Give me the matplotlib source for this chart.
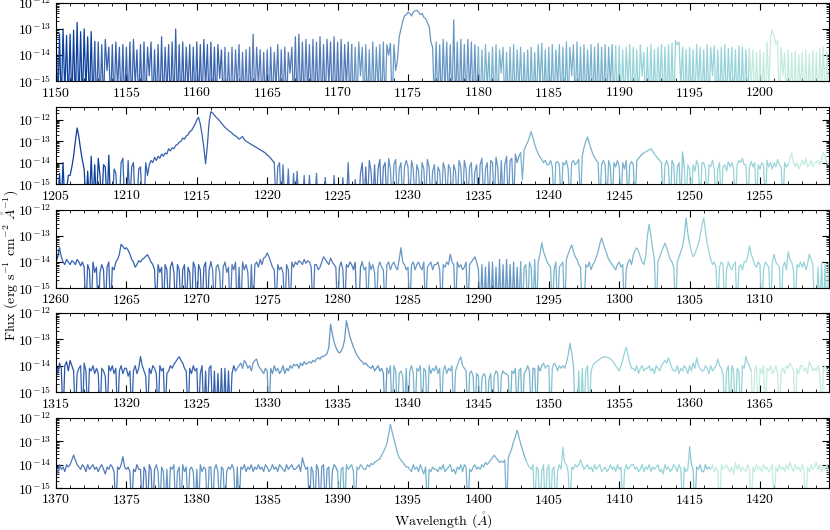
import numpy as np
from matplotlib import pyplot as plt
from matplotlib.ticker import MultipleLocator

plt.rcParams['font.family'] = 'serif'
plt.rcParams['font.serif'] = ['cmr10']
plt.rcParams['mathtext.fontset'] = 'cm'
plt.rcParams['axes.formatter.use_mathtext'] = True
plt.rcParams['font.size'] = 10

# Spectrum: log10 flux every 0.125 A, one list per panel
starts = [1150, 1205, 1260, 1315, 1370]
step = 0.125

logflux_1150 = [
    -13.1, -16, -13.2, -16, -13.0, -15.5, -13.25, -16, -13.2, -16, -13.05, -16, -12.75, -16, -13.1, -16,
    -13.0, -15.4, -13.3, -16, -13.1, -16, -13.5, -16, -13.5, -16, -13.6, -16, -13.4, -14.6, -13.7, -16,
    -13.6, -16, -13.5, -15.3, -13.7, -16, -13.6, -16,
    -13.7, -16, -13.5, -16, -13.4, -15.2, -13.8, -16, -13.6, -16, -13.5, -16, -13.7, -14.8, -13.5, -16,
    -13.8, -16, -13.6, -16, -13.3, -16, -13.7, -15.5, -13.6, -16, -13.5, -16, -13.0, -16, -13.6, -16,
    -13.5, -16, -13.7, -15.4, -13.6, -16, -13.7, -16,
    -13.5, -16, -13.6, -16, -13.4, -15.3, -13.6, -16, -13.5, -16, -13.7, -16, -13.6, -14.9, -13.8, -16,
    -13.7, -16, -13.9, -16, -13.7, -16, -13.8, -15.4, -13.6, -16, -13.9, -16, -13.8, -16, -13.7, -16,
    -13.2, -16, -13.7, -15.2, -13.8, -16, -13.9, -16,
    -13.8, -16, -13.7, -16, -13.9, -15.3, -13.6, -16, -13.8, -16, -13.7, -16, -13.9, -14.7, -13.7, -16,
    -13.3, -16, -13.2, -16, -13.5, -16, -13.4, -15.5, -13.6, -16, -13.4, -16, -13.5, -16, -13.3, -16,
    -13.6, -16, -13.4, -15.2, -13.5, -16, -13.3, -16,
    -13.5, -16, -13.4, -16, -13.6, -15.3, -13.5, -16, -13.6, -16, -13.7, -16, -13.5, -14.8, -13.7, -16,
    -13.6, -16, -13.8, -16, -13.5, -16, -13.7, -15.4, -13.6, -16, -13.5, -16, -13.6, -14.0, -13.55, -16,
    -13.6, -14.6, -14.2, -13.3, -13.0, -12.7, -12.5, -12.45,
    -12.35, -12.4, -12.5, -12.35, -12.3, -12.28, -12.35, -12.45, -12.4, -12.55, -12.6, -12.75, -12.9, -13.5, -13.7, -16,
    -13.5, -16, -13.6, -16, -13.4, -15.4, -13.5, -16, -13.6, -16, -12.65, -16, -13.5, -16, -13.4, -16,
    -13.6, -16, -13.4, -15.5, -13.5, -16, -13.6, -16,
    -13.7, -16, -13.8, -16, -13.6, -15.3, -13.9, -16, -13.7, -16, -13.6, -16, -13.8, -14.7, -13.7, -16,
    -13.9, -16, -13.7, -16, -13.6, -16, -13.8, -15.4, -13.7, -16, -13.9, -16, -13.8, -16, -13.7, -16,
    -13.9, -16, -13.6, -15.2, -13.55, -16, -13.8, -16,
    -13.7, -16, -13.6, -16, -13.8, -15.3, -13.6, -16, -13.7, -16, -13.5, -16, -13.7, -14.8, -13.6, -16,
    -13.5, -16, -13.7, -16, -13.6, -16, -13.8, -15.5, -13.6, -16, -13.7, -16, -13.55, -16, -13.7, -16,
    -13.6, -16, -13.7, -15.2, -13.6, -16, -13.65, -16,
    -13.65, -16, -13.8, -16, -13.7, -15.3, -13.6, -16, -13.7, -16, -13.8, -16, -13.6, -14.8, -13.9, -16,
    -13.7, -16, -13.6, -16, -13.8, -16, -13.7, -15.4, -13.6, -16, -13.7, -16, -13.6, -16, -13.55, -16,
    -13.45, -13.6, -13.5, -15.2, -13.7, -16, -13.8, -16,
    -13.7, -16, -13.8, -16, -13.6, -15.3, -13.7, -16, -13.8, -16, -13.6, -16, -13.7, -14.8, -13.65, -16,
    -13.8, -16, -13.7, -16, -13.6, -16, -13.75, -15.4, -13.7, -16, -13.8, -16, -13.65, -16, -13.7, -16,
    -13.8, -16, -13.75, -15.2, -13.8, -16, -13.9, -16,
    -13.8, -16, -13.9, -16, -13.5, -15.3, -13.3, -13.04, -13.3, -13.6, -13.45, -16, -13.7, -14.8, -13.9, -16,
    -13.8, -16, -13.9, -16, -13.85, -16, -14.0, -15.4, -13.9, -16, -13.8, -16, -13.95, -16, -13.8, -16,
    -13.9, -16, -13.75, -15.2, -13.7, -16, -13.85, -16,
    -13.9]

logflux_1205 = [
    -14.8, -16, -14.5, -16, -14.0, -16, -15.3, -14.6,
    -14.6, -14.2, -13.7, -13.0, -12.38, -12.8, -13.4, -13.9,
    -14.3, -16, -14.4, -16, -13.7, -16, -14.1, -16,
    -13.8, -14.6, -16, -14.1, -14.2, -16, -13.65, -16,
    -16, -14.3, -14.5, -16, -16, -14.0, -13.8, -16,
    -16, -13.9, -16, -14.2, -14.0, -16, -16, -14.3,
    -14.2, -16, -16, -14.0, -14.6, -14.1, -13.9, -14.0,
    -13.75, -13.9, -13.7, -13.8, -13.6, -13.7, -13.55, -13.6,
    -13.35, -13.45, -13.3, -13.35, -13.2, -13.15, -13.05, -13.0,
    -12.85, -12.9, -12.75, -12.7, -12.55, -12.5, -12.35, -12.2,
    -12.0, -11.88, -12.2, -12.7, -13.3, -14.06, -13.2, -12.1,
    -11.62, -11.68, -11.78, -11.88, -11.95, -12.05, -12.15, -12.25,
    -12.35, -12.42, -12.5, -12.55, -12.62, -12.7, -12.75, -12.82,
    -12.9, -12.85, -12.78, -12.92, -13.0, -13.05, -13.1, -13.15,
    -13.2, -13.25, -13.3, -13.35, -13.4, -13.45, -13.5, -13.55,
    -13.65, -13.7, -13.8, -13.9, -14.0, -16, -14.2, -14.0,
    -16, -14.1, -16, -16, -14.3, -16, -16, -14.5,
    -16, -14.4, -16, -16, -16, -14.6, -16, -16,
    -14.6, -16, -16, -16, -14.5, -16, -16, -16,
    -16, -14.7, -16, -16, -16, -16, -14.6, -16,
    -16, -16, -16, -14.7, -16, -16, -14.0, -16,
    -16, -16, -14.8, -16, -16, -14.5, -14.0, -16,
    -14.2, -16, -13.9, -14.4, -16, -14.1, -16, -14.3,
    -13.85, -16, -14.2, -14.0, -16, -13.8, -14.3, -16,
    -14.1, -13.85, -16, -14.3, -14.0, -16, -14.2, -13.9,
    -14.2, -16, -13.9, -14.3, -16, -14.1, -14.4, -16,
    -14.0, -14.3, -16, -13.85, -14.2, -16, -14.4, -14.1,
    -16, -14.2, -14.4, -16, -14.0, -14.3, -16, -14.1,
    -14.3, -16, -14.1, -14.4, -16, -13.9, -14.2, -16,
    -13.9, -14.3, -16, -14.2, -14.0, -16, -14.4, -14.1,
    -16, -14.1, -13.8, -16, -14.3, -14.0, -16, -13.9,
    -14.0, -16, -13.75, -14.2, -16, -13.9, -16, -14.1,
    -13.7, -16, -13.9, -13.8, -16, -13.6, -14.0, -13.7,
    -13.55, -14.8, -13.4, -13.2, -13.05, -12.8, -12.55, -12.85,
    -13.15, -13.4, -13.6, -13.75, -13.85, -14.0, -13.9, -14.1,
    -14.1, -13.9, -14.2, -16, -14.0, -13.95, -14.1, -16,
    -14.0, -14.1, -13.9, -14.3, -16, -14.0, -13.9, -14.1,
    -14.0, -13.85, -16, -13.7, -13.3, -13.0, -12.8, -13.1,
    -13.35, -13.6, -13.75, -13.9, -14.0, -16, -14.1, -13.9,
    -14.1, -16, -13.9, -14.2, -16, -14.0, -14.2, -13.9,
    -14.2, -16, -14.0, -14.3, -13.9, -16, -14.1, -13.95,
    -14.1, -16, -13.9, -13.8, -13.7, -13.6, -13.55, -13.5,
    -13.45, -13.4, -13.35, -13.45, -13.6, -13.7, -13.8, -13.9,
    -14.0, -16, -14.1, -13.9, -14.2, -16, -13.9, -14.1,
    -16, -14.2, -14.0, -16, -13.5, -14.2, -16, -14.1,
    -14.3, -16, -14.1, -14.4, -13.9, -14.2, -16, -14.0,
    -14.0, -14.3, -16, -14.1, -14.2, -13.9, -14.3, -16,
    -14.3, -14.0, -16, -14.2, -14.1, -14.4, -13.95, -14.2,
    -14.0, -14.3, -16, -14.1, -13.9, -14.0, -13.8, -14.1,
    -14.1, -16, -14.2, -13.95, -14.2, -14.0, -16, -14.1,
    -14.3, -14.0, -14.1, -16, -13.9, -14.2, -14.0, -14.3,
    -14.0, -14.2, -13.85, -14.1, -14.2, -16, -14.0, -14.2,
    -14.1, -13.8, -13.55, -14.0, -14.2, -14.0, -14.3, -14.1,
    -13.9, -14.1, -13.8, -14.2, -14.1, -13.9, -14.2, -14.0,
    -14.0, -13.9, -14.1, -13.8, -13.5, -13.7, -14.0, -14.1,
    -14.0]

logflux_1260 = [
    -14.0, -13.8, -13.46, -13.8, -14.0, -14.1, -13.9, -14.0,
    -14.1, -13.95, -14.0, -14.1, -13.9, -14.0, -14.15, -14.0,
    -14.2, -16, -14.1, -14.3, -16, -14.0, -14.4, -14.2,
    -16, -14.4, -14.1, -14.3, -16, -14.2, -14.0, -16,
    -14.2, -14.3, -14.0, -13.9, -13.7, -13.32, -13.4, -13.5,
    -13.45, -13.55, -13.7, -13.9, -14.0, -14.2, -14.1, -13.95,
    -14.0, -13.9, -13.85, -13.78, -13.72, -13.85, -14.0, -14.1,
    -14.3, -16, -14.1, -14.4, -14.2, -16, -14.1, -14.3,
    -16, -14.2, -14.0, -14.4, -16, -14.1, -14.3, -16,
    -14.3, -14.1, -16, -14.2, -14.4, -16, -14.0, -14.2,
    -16, -14.1, -14.3, -16, -14.2, -14.0, -16, -14.3,
    -14.0, -14.3, -16, -14.2, -14.1, -14.4, -16, -14.2,
    -14.0, -14.4, -14.2, -16, -14.1, -14.3, -14.0, -16,
    -14.2, -16, -14.0, -14.3, -14.1, -14.4, -16, -14.1,
    -16, -14.1, -14.0, -14.2, -13.9, -14.1, -13.85, -13.8,
    -13.65, -13.8, -14.0, -14.2, -14.3, -16, -14.1, -14.3,
    -14.2, -14.4, -16, -14.1, -14.3, -16, -14.0, -14.2,
    -14.0, -14.1, -13.95, -14.0, -14.1, -13.9, -14.05, -13.95,
    -14.0, -14.2, -16, -14.1, -14.1, -14.3, -14.2, -14.0,
    -13.8, -13.9, -14.0, -14.1, -13.85, -14.0, -14.1, -14.2,
    -16, -14.2, -14.0, -14.3, -16, -14.1, -14.2, -14.0,
    -14.1, -14.3, -14.0, -16, -16, -14.2, -14.0, -14.3,
    -14.2, -16, -14.0, -14.3, -14.1, -14.4, -16, -14.2,
    -14.0, -14.2, -14.3, -16, -14.1, -14.0, -14.3, -14.1,
    -14.0, -14.2, -14.3, -13.9, -13.45, -14.0, -14.1, -14.3,
    -14.2, -16, -14.1, -14.0, -14.3, -14.1, -14.0, -14.2,
    -14.3, -14.0, -16, -14.2, -14.1, -14.0, -14.3, -14.1,
    -14.1, -14.0, -14.3, -16, -14.1, -14.2, -14.0, -14.1,
    -13.7, -14.0, -14.1, -16, -14.0, -14.2, -14.1, -14.3,
    -14.2, -14.0, -16, -14.1, -14.0, -13.9, -13.8, -14.0,
    -14.3, -16, -14.1, -16, -14.2, -16, -14.0, -16,
    -14.0, -16, -14.2, -16, -13.9, -16, -14.1, -16,
    -13.9, -16, -14.1, -16, -14.0, -16, -14.2, -16,
    -14.0, -16, -14.2, -14.1, -16, -14.0, -14.2, -16,
    -13.9, -16, -14.0, -13.7, -13.26, -13.6, -13.8, -14.0,
    -14.1, -14.2, -16, -14.3, -14.0, -16, -14.2, -14.1,
    -14.0, -16, -13.9, -13.7, -13.5, -13.35, -13.6, -13.8,
    -13.9, -14.1, -14.2, -16, -16, -14.1, -14.2, -14.0,
    -14.3, -14.1, -14.0, -13.8, -13.6, -13.3, -13.08, -13.3,
    -13.5, -13.7, -13.9, -14.0, -14.1, -14.2, -14.3, -14.1,
    -14.0, -14.2, -14.1, -16, -14.3, -14.0, -13.9, -14.1,
    -13.75, -13.55, -13.46, -13.6, -13.8, -14.0, -14.1, -13.8,
    -13.0, -12.55, -13.0, -13.5, -13.9, -16, -14.0, -13.8,
    -13.6, -13.45, -13.27, -13.45, -13.7, -13.9, -14.0, -14.2,
    -16, -14.0, -13.8, -13.6, -13.4, -13.0, -12.3, -12.9,
    -13.3, -13.6, -13.8, -13.7, -13.5, -13.3, -13.0, -12.6,
    -12.3, -12.8, -13.3, -13.6, -13.9, -14.1, -14.0, -14.2,
    -16, -14.2, -14.0, -14.1, -16, -14.3, -14.0, -14.2,
    -14.3, -14.1, -14.0, -16, -14.2, -14.1, -14.3, -14.0,
    -14.0, -13.8, -13.38, -13.7, -13.9, -14.1, -14.2, -14.0,
    -14.1, -16, -14.3, -14.0, -14.1, -14.2, -16, -14.0,
    -13.7, -14.0, -14.1, -14.2, -16, -14.2, -14.0, -14.3,
    -13.6, -13.9, -14.0, -14.3, -16, -14.1, -14.2, -14.0,
    -14.2, -14.0, -14.3, -14.1, -13.7, -13.9, -14.1, -16,
    -16, -14.2, -16, -14.0, -16, -14.1, -16, -14.0,
    -14.1]

logflux_1315 = [
    -14.0, -14.3, -13.9, -14.1, -16, -14.0, -13.85, -14.2,
    -13.8, -14.0, -14.2, -16, -14.3, -14.1, -14.0, -16,
    -13.9, -14.2, -16, -14.1, -14.2, -14.0, -14.3, -14.1,
    -14.3, -16, -14.1, -14.2, -14.4, -16, -14.0, -14.2,
    -14.0, -14.3, -14.1, -16, -14.2, -14.0, -14.3, -14.1,
    -14.1, -14.4, -14.2, -16, -14.2, -14.0, -14.3, -14.1,
    -13.65, -14.0, -14.2, -14.4, -16, -14.1, -14.3, -14.0,
    -14.1, -14.3, -16, -14.0, -14.2, -14.1, -16, -14.3,
    -14.2, -14.0, -14.1, -13.95, -13.85, -13.75, -13.66, -13.8,
    -13.9, -14.1, -14.2, -16, -14.1, -14.3, -14.0, -14.2,
    -14.1, -16, -14.3, -14.0, -16, -14.2, -16, -14.1,
    -14.0, -16, -14.2, -16, -14.3, -16, -14.1, -16,
    -14.1, -16, -14.2, -16, -14.3, -14.0, -14.2, -14.1,
    -14.0, -13.9, -14.1, -13.8, -13.9, -14.1, -14.0, -14.2,
    -13.9, -13.8, -13.75, -14.0, -14.1, -14.2, -14.3, -14.1,
    -14.2, -16, -14.1, -14.3, -14.0, -14.2, -14.1, -14.3,
    -14.2, -14.0, -14.3, -14.1, -14.2, -14.0, -14.1, -13.95,
    -14.0, -13.95, -14.1, -13.9, -14.0, -13.85, -13.95, -13.9,
    -13.85, -13.9, -13.8, -13.85, -13.75, -13.7, -13.75, -13.65,
    -13.65, -13.6, -13.55, -13.3, -12.42, -12.8, -13.1, -13.3,
    -13.45, -13.52, -13.45, -13.3, -13.0, -12.29, -12.6, -12.9,
    -13.1, -13.3, -13.45, -13.6, -13.7, -13.8, -13.85, -13.95,
    -13.9, -14.0, -14.05, -14.1, -14.0, -14.2, -14.1, -14.0,
    -14.2, -14.1, -14.3, -16, -14.1, -14.3, -14.0, -16,
    -14.0, -14.2, -16, -14.3, -14.2, -14.4, -16, -14.1,
    -16, -14.2, -14.0, -14.3, -16, -14.1, -14.2, -14.0,
    -16, -14.1, -14.2, -16, -14.0, -14.3, -14.1, -14.2,
    -14.0, -14.3, -14.1, -16, -14.2, -14.0, -14.3, -14.1,
    -14.2, -14.0, -16, -14.2, -14.0, -13.8, -13.67, -14.0,
    -14.1, -14.2, -16, -14.3, -14.2, -14.4, -16, -14.3,
    -14.4, -16, -14.5, -14.3, -14.4, -16, -14.5, -14.3,
    -16, -14.4, -14.2, -14.3, -16, -14.4, -14.2, -14.3,
    -14.3, -14.4, -16, -14.2, -14.3, -14.1, -16, -14.2,
    -14.1, -16, -14.3, -14.2, -14.0, -14.2, -16, -14.1,
    -14.1, -16, -14.0, -14.2, -14.0, -13.9, -14.1, -14.0,
    -14.0, -16, -14.1, -13.9, -14.0, -14.2, -14.0, -14.1,
    -14.0, -14.1, -13.9, -13.6, -13.15, -13.5, -14.0, -16,
    -16, -14.2, -16, -14.1, -16, -14.2, -14.0, -16,
    -14.2, -14.0, -13.9, -13.85, -13.8, -13.75, -13.7, -13.68,
    -13.66, -13.68, -13.7, -13.75, -13.8, -13.9, -14.0, -14.1,
    -14.2, -14.0, -13.8, -13.5, -13.3, -13.6, -13.9, -14.1,
    -14.1, -14.2, -14.0, -14.3, -14.1, -14.0, -14.2, -14.1,
    -14.1, -14.0, -14.2, -14.1, -14.3, -14.0, -14.1, -14.2,
    -14.0, -13.9, -13.8, -13.9, -13.7, -13.9, -14.1, -14.2,
    -14.2, -14.0, -14.3, -14.1, -14.2, -14.0, -14.1, -14.3,
    -14.0, -14.2, -13.9, -14.1, -13.7, -14.0, -14.1, -14.2,
    -14.2, -14.0, -14.1, -14.3, -14.0, -14.2, -14.1, -14.0,
    -13.75, -14.0, -14.1, -14.3, -16, -14.2, -14.0, -16,
    -14.0, -14.2, -16, -14.1, -14.2, -16, -14.0, -14.1,
    -13.65, -13.9, -14.0, -14.2, -16, -14.2, -14.0, -16,
    -14.1, -14.3, -14.0, -16, -14.1, -14.2, -14.0, -14.3,
    -14.2, -14.0, -14.3, -16, -14.2, -14.1, -14.3, -14.0,
    -14.1, -13.9, -14.0, -14.2, -16, -14.1, -14.3, -14.0,
    -14.0, -14.2, -14.1, -14.3, -13.85, -14.0, -14.2, -14.1,
    -14.2, -14.0, -14.3, -16, -14.1, -14.0, -14.2, -14.1,
    -14.1]

logflux_1370 = [
    -14.1, -14.4, -14.0, -14.2, -14.1, -14.3, -14.0, -14.1,
    -14.0, -13.8, -13.59, -13.8, -14.0, -14.1, -14.2, -14.0,
    -14.1, -14.3, -14.0, -14.2, -14.1, -14.0, -14.2, -14.1,
    -14.3, -14.1, -14.0, -14.2, -14.4, -14.1, -14.2, -14.0,
    -14.1, -14.3, -16, -14.1, -14.2, -14.0, -13.66, -14.1,
    -14.2, -14.1, -14.3, -16, -14.2, -14.3, -14.0, -14.2,
    -14.2, -16, -14.1, -14.3, -16, -14.0, -14.2, -16,
    -14.2, -14.0, -14.3, -16, -14.1, -14.3, -16, -14.2,
    -16, -14.1, -14.2, -14.0, -16, -14.3, -14.1, -16,
    -14.0, -14.3, -14.1, -16, -14.2, -14.1, -14.3, -16,
    -14.2, -16, -14.0, -14.3, -14.1, -14.2, -16, -14.1,
    -14.1, -16, -14.2, -14.0, -14.3, -16, -14.1, -14.2,
    -16, -14.3, -14.1, -14.2, -14.0, -14.2, -16, -14.1,
    -16, -14.1, -14.2, -14.0, -14.3, -14.1, -14.2, -14.0,
    -14.3, -14.1, -14.2, -14.0, -14.2, -14.1, -14.3, -14.0,
    -14.1, -14.3, -14.2, -14.0, -14.2, -14.1, -14.3, -14.0,
    -14.1, -14.2, -14.3, -14.0, -14.2, -14.1, -14.0, -14.2,
    -14.2, -14.1, -14.0, -14.3, -13.7, -14.0, -14.2, -14.1,
    -16, -14.1, -14.3, -16, -14.0, -14.2, -16, -14.1,
    -14.0, -16, -14.2, -14.1, -16, -14.3, -14.0, -14.1,
    -14.3, -16, -14.2, -14.1, -16, -14.0, -14.2, -14.1,
    -14.0, -14.3, -16, -14.1, -14.2, -14.0, -14.1, -14.2,
    -14.2, -14.0, -14.1, -13.95, -14.0, -13.9, -13.85, -13.8,
    -13.75, -13.6, -13.45, -13.3, -13.1, -12.7, -12.27, -12.6,
    -12.9, -13.2, -13.5, -13.7, -13.8, -13.9, -14.0, -14.1,
    -14.1, -14.2, -14.3, -14.0, -14.2, -14.1, -14.3, -14.0,
    -14.2, -14.4, -14.1, -16, -14.2, -14.3, -14.1, -14.2,
    -14.2, -14.3, -14.1, -14.2, -14.0, -14.3, -14.2, -14.1,
    -14.0, -14.3, -14.2, -14.4, -14.1, -14.2, -14.0, -14.3,
    -14.0, -14.1, -16, -14.2, -14.3, -14.1, -14.0, -14.2,
    -14.1, -14.2, -14.0, -14.1, -13.9, -14.0, -13.9, -13.8,
    -13.7, -13.59, -13.7, -13.8, -13.9, -13.85, -13.9, -13.8,
    -16, -13.7, -13.5, -13.3, -13.0, -12.8, -12.52, -12.8,
    -13.1, -13.35, -13.6, -13.8, -14.0, -14.1, -14.2, -14.0,
    -16, -14.1, -14.2, -16, -14.3, -14.0, -16, -14.2,
    -14.0, -16, -14.2, -14.1, -16, -14.3, -14.0, -14.2,
    -13.26, -13.9, -14.0, -14.3, -16, -14.1, -14.2, -14.0,
    -14.1, -14.0, -13.8, -14.0, -14.2, -14.1, -14.0, -14.2,
    -14.1, -14.3, -14.0, -14.2, -14.1, -14.0, -14.3, -14.2,
    -14.1, -14.3, -14.2, -14.0, -14.2, -14.1, -14.3, -14.0,
    -14.2, -14.1, -16, -14.3, -14.0, -14.2, -14.1, -14.0,
    -14.0, -14.2, -14.1, -14.3, -14.2, -14.0, -14.3, -14.1,
    -14.2, -14.0, -14.3, -14.1, -14.2, -14.1, -14.0, -14.3,
    -14.2, -14.4, -14.0, -14.2, -14.1, -14.3, -14.2, -14.0,
    -14.1, -14.3, -14.0, -14.2, -16, -14.1, -14.3, -14.2,
    -13.25, -14.0, -14.2, -16, -14.1, -14.2, -14.0, -14.3,
    -14.3, -14.0, -14.2, -14.1, -14.2, -14.0, -14.3, -14.1,
    -14.3, -16, -14.0, -14.2, -14.1, -14.0, -14.2, -14.3,
    -14.1, -14.4, -13.9, -14.2, -14.0, -14.3, -14.1, -14.2,
    -14.3, -14.0, -14.2, -16, -14.1, -14.3, -14.0, -14.2,
    -14.1, -14.3, -14.0, -14.2, -14.1, -14.3, -14.2, -14.0,
    -16, -14.1, -14.3, -14.0, -14.2, -14.1, -14.3, -14.0,
    -14.2, -13.9, -14.1, -14.3, -14.0, -14.2, -14.1, -14.3,
    -14.0, -14.2, -16, -14.1, -14.3, -14.0, -14.2, -14.1,
    -13.9, -14.2, -14.0, -14.3, -14.1, -14.2, -14.0, -14.3,
    -14.1]

all_logflux = [logflux_1150, logflux_1205, logflux_1260, logflux_1315, logflux_1370]

# Where each differently coloured chunk of the spectrum begins (A)
seg_starts = [
    [1150, 1152.7, 1161.8, 1171.0, 1180.0, 1189.6, 1199.2],
    [1205, 1209.0, 1220.5, 1228.5, 1238.0, 1246.6, 1249.6, 1257.0],
    [1260, 1260.2, 1271.0, 1281.7, 1293.0, 1301.0, 1304.9],
    [1315, 1316.2, 1327.7, 1338.5, 1349.5, 1351.8, 1364.3],
    [1370, 1377.0, 1390.0, 1403.3, 1415.0, 1416.5],
]

navy = '#0c409c'
blue = '#3762ae'
mid = '#5179b8'
steel = '#6696c4'
teal = '#79b2cd'
aqua = '#87c4d2'
cyan = '#97d4d9'
mint = '#c3ecdd'

seg_colors = [
    [navy, blue, mid, steel, teal, cyan, mint],
    [navy, blue, mid, steel, teal, aqua, cyan, mint],
    [navy, blue, mid, steel, teal, aqua, cyan],
    ['#2b52a6', blue, steel, teal, aqua, cyan, mint],
    [mid, steel, teal, cyan, aqua, mint],
]

# axes boxes in pixels: (top, bottom)
boxes = [(3, 81), (107, 184), (210, 288), (313, 392), (418, 488)]

W, H = 830, 530
fig = plt.figure(figsize=(W / 100, H / 100), dpi=100)

for k in range(5):
    top, bot = boxes[k]
    ax = fig.add_axes([56 / W, (H - bot) / H, 773 / W, (bot - top) / H])

    flux = 10 ** np.array(all_logflux[k])
    wl = starts[k] + step * np.arange(len(flux))

    bounds = seg_starts[k] + [starts[k] + 60]
    for j in range(len(seg_starts[k])):
        i0 = np.searchsorted(wl, bounds[j])
        i1 = np.searchsorted(wl, bounds[j + 1]) + 1
        ax.plot(wl[i0:i1], flux[i0:i1], color=seg_colors[k][j], lw=0.9)

    ax.set_yscale('log')
    ax.set_xlim(starts[k], starts[k] + 54.9)
    if k == 1:
        ax.set_ylim(1e-15, 4e-12)
    else:
        ax.set_ylim(1e-15, 1e-12)

    ax.xaxis.set_major_locator(MultipleLocator(5))
    ax.xaxis.set_minor_locator(MultipleLocator(1))
    ax.tick_params(which='both', direction='in', top=True, right=True)
    ax.tick_params(which='major', length=5)
    ax.tick_params(which='minor', length=2.5)

fig.text(0.012, 0.5, r'Flux (erg s$^{-1}$ cm$^{-2}$ $\mathring{A}^{-1}$)',
         rotation=90, va='center', ha='center', fontsize=10)
fig.text(443 / W, 1 - 520 / H, r'Wavelength ($\mathring{A}$)',
         va='center', ha='center', fontsize=10)

fig.savefig('out.png', dpi=100)
